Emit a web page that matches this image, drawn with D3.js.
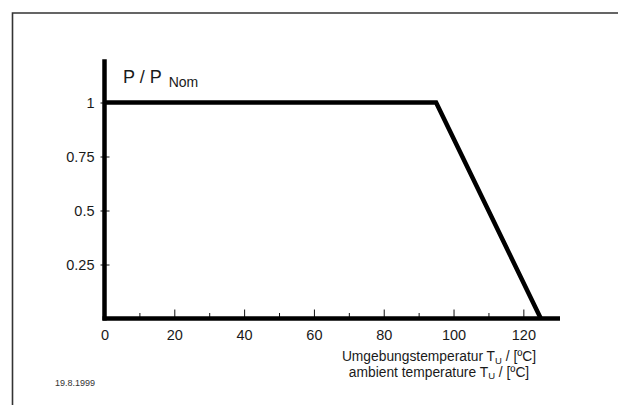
<!DOCTYPE html>
<html>
<head>
<meta charset="utf-8">
<script src="https://cdn.jsdelivr.net/npm/d3@7"></script>
<style>
  body { margin: 0; background: #fff; }
  svg { display: block; font-family: "Liberation Sans", Arial, sans-serif; }
  .tick text { fill: #1a1a1a; }
</style>
</head>
<body>
<svg width="618" height="405"></svg>
<script>
// derating curve: P / P_Nom over ambient temperature
const temps = [0, 95, 125];
const power = [1, 1, 0];

const xMajor = [0, 20, 40, 60, 80, 100, 120];
const xMinor = [10, 30, 50, 70, 90, 110];
const yTicks = [0.25, 0.5, 0.75, 1];

const svg = d3.select("svg");

const x = d3.scaleLinear().domain([0, 130.5]).range([104.5, 560]);
const y = d3.scaleLinear().domain([0, 1.2]).range([318.5, 59.3]);

// frame (top and left edge only)
svg.append("path")
  .attr("d", "M12.5,405V13H618")
  .attr("fill", "none")
  .attr("stroke", "#333")
  .attr("stroke-width", 1.6);

// minor ticks (no labels)
svg.append("g")
  .attr("transform", `translate(0,${y(0)})`)
  .call(d3.axisBottom(x).tickValues(xMinor).tickSize(-5.5).tickFormat(""))
  .call((g) => g.select(".domain").remove())
  .call((g) => g.selectAll("line").attr("stroke", "#111"));

// major ticks + labels
svg.append("g")
  .attr("transform", `translate(0,${y(0)})`)
  .call(d3.axisBottom(x).tickValues(xMajor).tickSize(-9).tickPadding(11.5).tickFormat((d) => String(d)))
  .call((g) => g.select(".domain").remove())
  .call((g) => g.selectAll("line").attr("stroke", "#111"))
  .call((g) => g.selectAll("text").attr("font-size", 14.5).attr("font-family", null));

svg.append("g")
  .attr("transform", `translate(${x(0)},0)`)
  .call(d3.axisLeft(y).tickValues(yTicks).tickSize(-5).tickPadding(10).tickFormat((d) => String(d)))
  .call((g) => g.select(".domain").remove())
  .call((g) => g.selectAll("line").attr("stroke", "#111").attr("x1", -4))
  .call((g) => g.selectAll("text").attr("font-size", 14.5).attr("font-family", null));

// heavy axis lines
svg.append("line")
  .attr("x1", x(0)).attr("x2", x(0))
  .attr("y1", y(1.2)).attr("y2", y(0) + 2)
  .attr("stroke", "#000").attr("stroke-width", 4.5);
svg.append("line")
  .attr("x1", x(0) - 2).attr("x2", x(130.5))
  .attr("y1", y(0)).attr("y2", y(0))
  .attr("stroke", "#000").attr("stroke-width", 4.5);

// curve
const line = d3.line()
  .x((d, i) => x(temps[i]))
  .y((d) => y(d));

svg.append("path")
  .datum(power)
  .attr("d", line)
  .attr("fill", "none")
  .attr("stroke", "#000")
  .attr("stroke-width", 4.5)
  .attr("stroke-linejoin", "miter");

// y label
const yl = svg.append("text")
  .attr("x", 123).attr("y", 83)
  .attr("font-size", 18)
  .attr("fill", "#1a1a1a")
  .text("P / P");
yl.append("tspan").attr("font-size", 14).attr("dx", 7).attr("dy", 4).text("Nom");

// x label, two languages
const xTitle = ["Umgebungstemperatur T", "ambient temperature T"];
xTitle.forEach((t, i) => {
  const txt = svg.append("text")
    .attr("x", 439).attr("y", 361 + i * 15.5)
    .attr("text-anchor", "middle")
    .attr("font-size", 13.8)
    .attr("fill", "#1a1a1a")
    .text(t);
  txt.append("tspan").attr("font-size", 9.5).attr("dy", 2.5).text("U");
  txt.append("tspan").attr("dy", -2.5).text(" / [ºC]");
});

svg.append("text")
  .attr("x", 55).attr("y", 386)
  .attr("font-size", 9)
  .attr("fill", "#333")
  .text("19.8.1999");
</script>
</body>
</html>
